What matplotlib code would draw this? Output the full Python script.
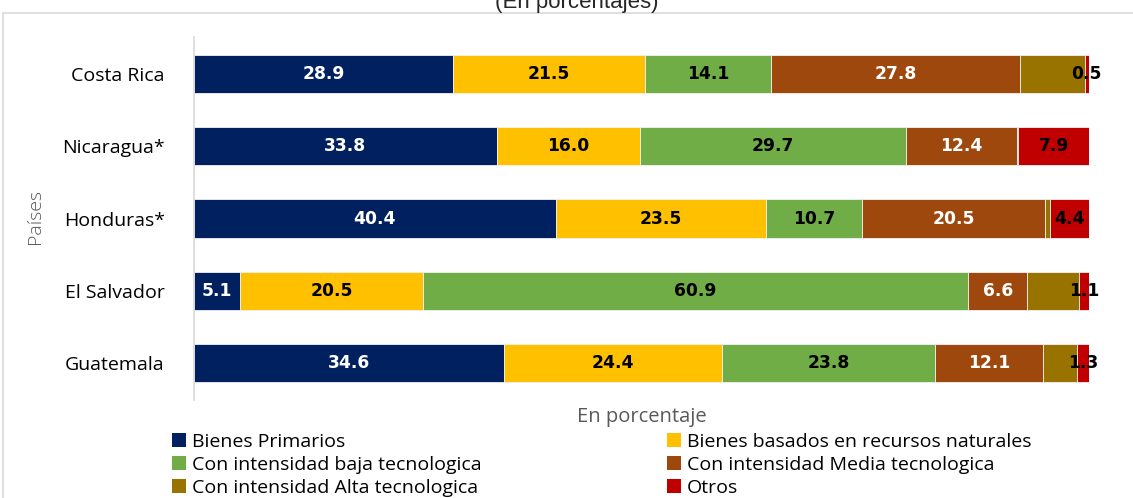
import matplotlib.pyplot as plt
from matplotlib.patches import Patch, Rectangle
import numpy as np

paises = ["Costa Rica", "Nicaragua*", "Honduras*", "El Salvador", "Guatemala"]
categorias = ["Bienes Primarios", "Bienes basados en recursos naturales",
              "Con intensidad baja tecnologica", "Con intensidad Media tecnologica",
              "Con intensidad Alta tecnologica", "Otros"]

primarios = [28.9, 33.8, 40.4, 5.1, 34.6]
recursos = [21.5, 16.0, 23.5, 20.5, 24.4]
baja = [14.1, 29.7, 10.7, 60.9, 23.8]
media = [27.8, 12.4, 20.5, 6.6, 12.1]
alta = [7.2, 0.2, 0.5, 5.8, 3.8]
otros = [0.5, 7.9, 4.4, 1.1, 1.3]

colores = ["#002060", "#FFC000", "#70AD47", "#9E480E", "#997300", "#C00000"]
# which series get a value label, and in what colour
etiqueta = ["white", "black", "black", "white", None, "black"]

series = [primarios, recursos, baja, media, alta, otros]

W, H = 1133, 498
fig = plt.figure(figsize=(W / 100, H / 100), dpi=100)
ax = fig.add_axes([194 / W, 1 - 400 / H, 895 / W, 363 / H])

# light frame around the chart area
fig.patches.append(Rectangle((3 / W, -0.1), 1.1, 1 - 13 / H + 0.1,
                             transform=fig.transFigure, fill=False,
                             edgecolor="#d9d9d9", lw=1.2))

y = np.arange(len(paises))
left = np.zeros(len(paises))
for vals, col, lab_col in zip(series, colores, etiqueta):
    vals = np.array(vals)
    ax.barh(y, vals, left=left, height=0.53, color=col,
            edgecolor="#f2f2f2", linewidth=0.6)
    if lab_col:
        for yi, l, v in zip(y, left, vals):
            ax.text(l + v / 2, yi, f"{v:.1f}", ha="center", va="center",
                    color=lab_col, fontsize=12.3, fontweight="bold",
                    family="DejaVu Sans")
    left += vals

ax.set_xlim(0, 100)
ax.set_ylim(len(paises) - 0.5 + 0.01, -0.51)
ax.set_yticks(y)
ax.set_yticklabels(paises, family="Open Sans", fontsize=14)
ax.tick_params(axis="y", length=0, pad=21)
ax.set_xticks([])
for s in ["top", "right", "bottom"]:
    ax.spines[s].set_visible(False)
ax.spines["left"].set_color("#d9d9d9")
ax.spines["left"].set_linewidth(1.2)

ax.set_xlabel("En porcentaje", family="Open Sans", fontsize=14.5,
              color="#595959", labelpad=5)
fig.text(35 / W, 1 - 217 / H, "Países", rotation=90, ha="center",
         va="center", family="Open Sans", fontsize=14, color="#595959",
         fontweight="light")

fig.text(577 / W, 1 - 13 / H, "(En porcentajes)", ha="center",
         va="bottom", family="Liberation Sans", fontsize=16, color="#262626")

# two legend columns, filled row by row
handles = [Patch(facecolor=c) for c in colores]
leg_kw = dict(loc="upper left", frameon=False,
              prop={"family": "Open Sans", "size": 14}, handlelength=0.72,
              handleheight=0.72, handletextpad=0.3, labelspacing=0.26,
              borderpad=0, borderaxespad=0)
fig.legend(handles[0::2], categorias[0::2],
           bbox_to_anchor=(172 / W, 1 - 433 / H), **leg_kw)
fig.legend(handles[1::2], categorias[1::2],
           bbox_to_anchor=(667 / W, 1 - 433 / H), **leg_kw)

fig.savefig("out.png", dpi=100)
